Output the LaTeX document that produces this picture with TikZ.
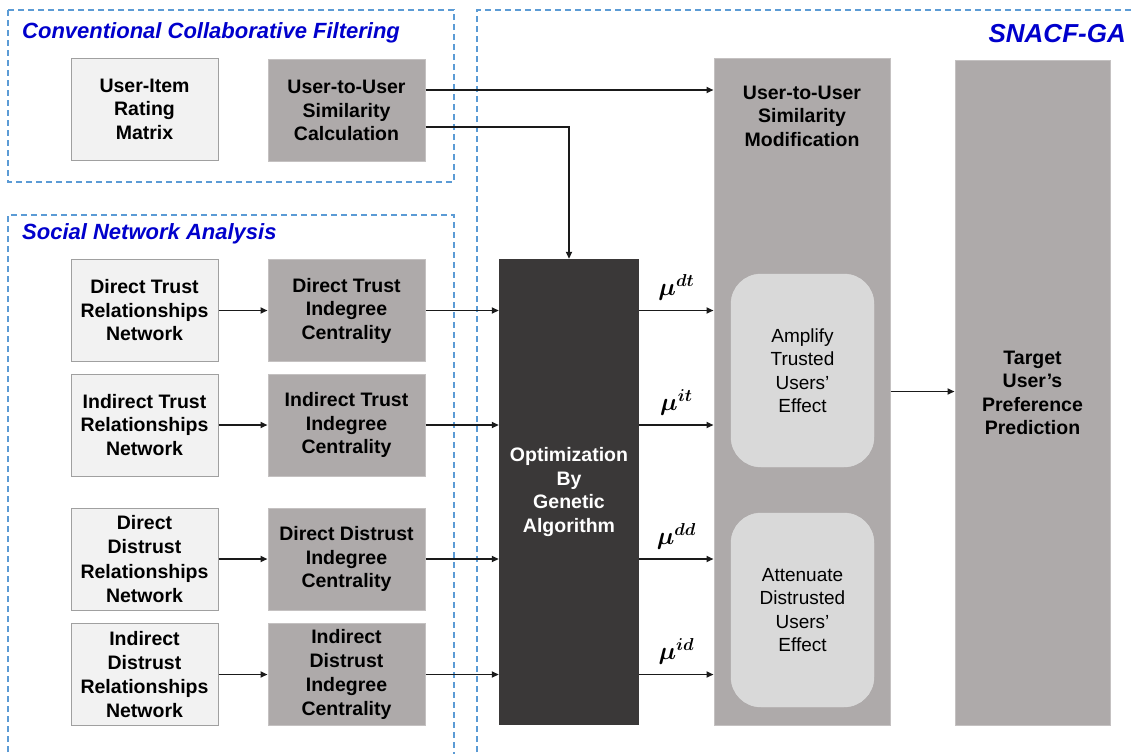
\documentclass[tikz,border=0pt]{standalone}
\usepackage{fontspec}
\setmainfont{Liberation Sans}
\usepackage{amsmath,bm}
\usetikzlibrary{arrows.meta}
\definecolor{lightbox}{HTML}{F2F2F2}
\definecolor{lightborder}{HTML}{A0A0A0}
\definecolor{midgray}{HTML}{AEAAAA}
\definecolor{midborder}{HTML}{C4C1C1}
\definecolor{darkbox}{HTML}{3A3838}
\definecolor{roundgray}{HTML}{D9D9D9}
\definecolor{dashblue}{HTML}{5B9BD5}
\definecolor{titleblue}{HTML}{0000CC}
\definecolor{linecol}{HTML}{1A1A1A}
\begin{document}
\begin{tikzpicture}[x=1pt,y=-1pt,
  boxtext/.style={align=center, inner sep=0pt, font=\fontsize{19.5}{23.5}\selectfont\bfseries},
  lightnode/.style={boxtext, draw=lightborder, line width=1pt, fill=lightbox, minimum width=147pt, minimum height=102pt},
  midnode/.style={boxtext, draw=midborder, line width=1pt, fill=midgray, minimum width=157pt, minimum height=102pt},
  tallnode/.style={boxtext, draw=midborder, line width=1pt, fill=midgray},
  roundnode/.style={align=center, inner sep=0pt, fill=roundgray, draw=roundgray!90!white, rounded corners=30pt, minimum width=143pt, minimum height=193pt, font=\fontsize{19}{23.5}\selectfont},
  grouplabel/.style={inner sep=0pt, text=titleblue, font=\fontsize{22}{26}\selectfont\bfseries\itshape},
  grouparea/.style={draw=dashblue, line width=1.5pt, dash pattern=on 6pt off 4pt},
  conn/.style={draw=linecol, line width=1.7pt, -{Triangle[length=7pt,width=6pt]}},
  mulabel/.style={inner sep=0pt, font=\fontsize{23}{26}\selectfont}
]
\clip (0,0) rectangle (1135,753);
\fill[white] (0,0) rectangle (1135,753);

% group areas
\draw[grouparea] (8,10) rectangle (454,182);
\draw[grouparea] (8,772) -- (8,215) -- (454,215) -- (454,772);
\draw[grouparea] (477,772) -- (477,10) -- (1150,10);

\node[grouplabel, anchor=base west] (ccf) at (22,38) {Conventional Collaborative Filtering};
\node[grouplabel, anchor=base west] (sna) at (22,239) {Social Network Analysis};
\node[grouplabel, anchor=base east, font=\fontsize{26}{30}\selectfont\bfseries\itshape] (snacf) at (1126,42) {SNACF-GA};

% left column
\node[lightnode] (ui) at (144.5,109) {User-Item\\Rating\\Matrix};
\node[lightnode] (dtn) at (144.5,310.5) {Direct Trust\\Relationships\\Network};
\node[lightnode] (itn) at (144.5,425) {Indirect Trust\\Relationships\\Network};
\node[lightnode, font=\fontsize{19.5}{24.2}\selectfont\bfseries] (ddn) at (144.5,559) {Direct\\Distrust\\Relationships\\Network};
\node[lightnode, font=\fontsize{19.5}{24.2}\selectfont\bfseries] (idn) at (144.5,674.5) {Indirect\\Distrust\\Relationships\\Network};

% second column
\node[midnode] (calc) at (346.5,110.5) {User-to-User\\Similarity\\Calculation};
\node[midnode] (dtc) at (346.5,310.5) {Direct Trust\\Indegree\\Centrality};
\node[midnode] (itc) at (346.5,425) {Indirect Trust\\Indegree\\Centrality};
\node[midnode] (ddc) at (346.5,559) {Direct Distrust\\Indegree\\Centrality};
\node[midnode, font=\fontsize{19.5}{24.2}\selectfont\bfseries] (idc) at (346.5,674.5) {Indirect\\Distrust\\Indegree\\Centrality};

% optimization
\node[boxtext, fill=darkbox, text=white, minimum width=140pt, minimum height=466pt] (opt) at (569,492) {Optimization\\By\\Genetic\\Algorithm};

% modification
\node[tallnode, minimum width=176pt, minimum height=667pt] (mod) at (802,391.5) {};
\node[boxtext] (modtext) at (802,116) {User-to-User\\Similarity\\Modification};
\node[roundnode] (amp) at (802.5,370.5) {Amplify\\Trusted\\Users'\\Effect};
\node[roundnode, minimum height=194pt] (att) at (802.5,610) {Attenuate\\Distrusted\\Users'\\Effect};

% target
\node[tallnode, minimum width=155pt, minimum height=665pt] (target) at (1032.5,392.5) {};
\node[boxtext] (targettext) at (1032.5,393) {Target\\User's\\Preference\\Prediction};

% connectors
\draw[conn] (dtn.east) -- (dtc.west);
\draw[conn] (itn.east) -- (itc.west);
\draw[conn] (ddn.east) -- (ddc.west);
\draw[conn] (idn.east) -- (idc.west);

\draw[conn] (dtc.east) -- (dtc.east -| opt.west);
\draw[conn] (itc.east) -- (itc.east -| opt.west);
\draw[conn] (ddc.east) -- (ddc.east -| opt.west);
\draw[conn] (idc.east) -- (idc.east -| opt.west);

\draw[conn] ([yshift=20.5pt]calc.east) -- ([yshift=20.5pt]calc.east -| mod.west);
\draw[conn] ([yshift=-16.5pt]calc.east) -| (opt.north);

\draw[conn] (opt.east |- dtc.east) -- (mod.west |- dtc.east) node[mulabel, midway, above=9pt] (mudt) {$\bm{\mu}^{\bm{dt}}$};
\draw[conn] (opt.east |- itc.east) -- (mod.west |- itc.east) node[mulabel, midway, above=9pt] (muit) {$\bm{\mu}^{\bm{it}}$};
\draw[conn] (opt.east |- ddc.east) -- (mod.west |- ddc.east) node[mulabel, midway, above=9pt] (mudd) {$\bm{\mu}^{\bm{dd}}$};
\draw[conn] (opt.east |- idc.east) -- (mod.west |- idc.east) node[mulabel, midway, above=9pt] (muid) {$\bm{\mu}^{\bm{id}}$};

\draw[conn] (mod.east) -- (mod.east -| target.west);
\end{tikzpicture}
\end{document}
